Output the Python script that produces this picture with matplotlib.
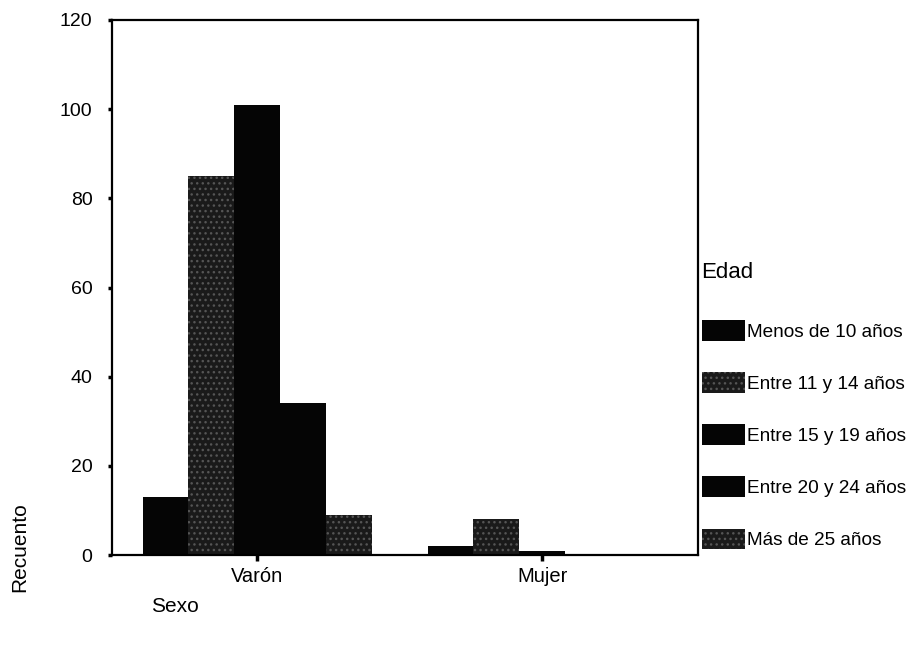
import matplotlib
matplotlib.use("Agg")
import matplotlib.pyplot as plt
import numpy as np

plt.rcParams["font.family"] = ["Liberation Sans", "DejaVu Sans"]

# Data (counts by sex and age group)
sexo = ["Varón", "Mujer"]
edad = ["Menos de 10 años", "Entre 11 y 14 años", "Entre 15 y 19 años",
        "Entre 20 y 24 años", "Más de 25 años"]
menos_10 = [13, 2]
entre_11_14 = [85, 8]
entre_15_19 = [101, 1]
entre_20_24 = [34, 0]
mas_25 = [9, 0]
y_ticks = [0, 20, 40, 60, 80, 100, 120]

series = [menos_10, entre_11_14, entre_15_19, entre_20_24, mas_25]
# solid black vs. dark stippled grey, like the scanned SPSS output
styles = [
    dict(color="#050505", hatch=None, edge="#050505"),
    dict(color="#1a1a1a", hatch="...", edge="#555555"),
    dict(color="#050505", hatch=None, edge="#050505"),
    dict(color="#050505", hatch=None, edge="#050505"),
    dict(color="#1a1a1a", hatch="...", edge="#555555"),
]

fig = plt.figure(figsize=(9.1, 6.45), dpi=100)
ax = fig.add_axes([112 / 910, 1 - 555 / 645, (698 - 112) / 910, (555 - 20) / 645])

x = np.arange(len(sexo))
w = 0.161
handles = []
for i, (vals, st) in enumerate(zip(series, styles)):
    bars = ax.bar(x + (i - 2) * w, vals, width=w, color=st["color"],
                  hatch=st["hatch"], edgecolor=st["edge"], linewidth=0,
                  label=edad[i])
    handles.append(bars)

ax.set_xlim(-0.51, 1.547)
ax.set_ylim(0, 120)
ax.set_yticks(y_ticks)
ax.set_xticks(x)
ax.set_xticklabels(sexo)
for sp in ax.spines.values():
    sp.set_linewidth(1.6)
ax.tick_params(axis="y", direction="out", length=3, width=2.5, pad=11, labelsize=14)
ax.tick_params(axis="x", direction="out", length=4, width=2.5, pad=5, labelsize=14.5)

fig.text(20 / 910, 1 - 547 / 645, "Recuento", rotation=90, ha="center",
         va="center", fontsize=15)
fig.text(151 / 910, 1 - 606 / 645, "Sexo", ha="left", va="center", fontsize=15)

fig.text(701 / 910, 1 - 273 / 645, "Edad", ha="left", va="center", fontsize=16)
fig.legend(handles=handles, labels=edad, loc="upper left",
           bbox_to_anchor=(702 / 910, 1 - 320 / 645), frameon=False,
           fontsize=13.7, handlelength=2.25, handleheight=1.3, handletextpad=0.1,
           labelspacing=1.65, borderpad=0, borderaxespad=0)

fig.savefig("out.png", dpi=100)
